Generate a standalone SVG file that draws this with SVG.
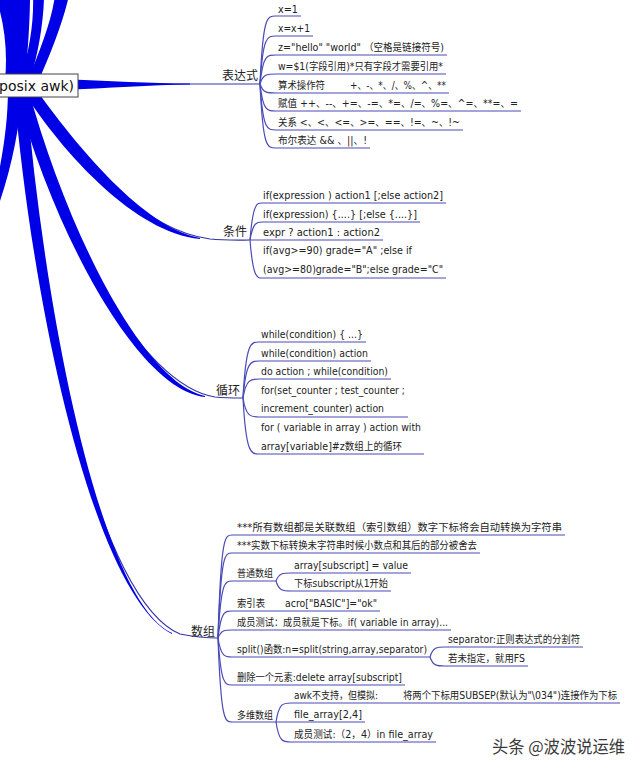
<svg xmlns="http://www.w3.org/2000/svg" width="640" height="769" viewBox="0 0 640 769">
<style>
.t{font-family:"DejaVu Sans","Noto Sans CJK SC",sans-serif;font-size:10px;fill:#222}
.lbl{font-family:"DejaVu Sans","Noto Sans CJK SC",sans-serif;font-size:12px;fill:#222}
.root{font-family:"DejaVu Sans","Noto Sans CJK SC",sans-serif;font-size:14px;fill:#111}
.br{fill:#0000e6}
.thin{fill:none;stroke:#3434a8;stroke-width:1.2}
.ul{fill:none;stroke:#4a4ab8;stroke-width:1.2}
.wm{font-family:"Noto Sans CJK SC",sans-serif;font-size:17px;fill:#3a3a3a}
</style>
<rect width="640" height="769" fill="#fff"/>
<g id="connectors">
  <!-- main branches (thick, tapering) -->
  <path class="br" d="M5,80 C8,50 4,20 -5,-5 L30,-5 C30,20 28,50 25,80 Z"/>
  <path class="br" d="M20,80 C30,50 34,20 33,-5 L44,-5 C44,20 38,55 30,80 Z"/>
  <path class="br" d="M28,80 C40,50 52,20 55,-5 L69,-5 C64,20 50,55 38,82 Z"/>
  <path class="br" d="M22,88 C20,130 10,175 -5,215 L-5,190 C2,160 8,125 8,88 Z"/>
  <path class="thin" d="M70,84 C110,84 150,84 260,84"/>
  <path class="br" d="M60,79 C110,81 150,83.4 190,83.6 L190,84.4 C150,84.8 110,88 60,90 Z"/>
  <path class="thin" d="M28,88 C70,150 140,230 210,239 C225,240.5 240,240 250,240"/>
  <path class="br" d="M33,85 C76,146 144,228 200,238 L200,239 C136,233 64,155 23,91 Z"/>
  <path class="thin" d="M22,90 C60,230 140,385 215,397 C225,398 235,398 243,398"/>
  <path class="br" d="M28,88 C66,228 142,382 205,396 L205,397 C138,390 54,233 16,92 Z"/>
  <path class="thin" d="M20,90 C40,330 100,600 180,634 C195,637 205,638 218,638"/>
  <path class="br" d="M26,90 C46,330 104,603 172,633 L172,634 C98,597 35,330 14,90 Z"/>
  <!-- 表达式 fork -->
  <path class="ul" d="M260,84 C263,16 267,16 276,16 H301"/>
  <path class="ul" d="M260,84 C263,36 267,36 276,36 H313"/>
  <path class="ul" d="M260,84 C263,55 267,55 276,55 H447"/>
  <path class="ul" d="M260,84 C263,74 267,74 276,74 H446"/>
  <path class="ul" d="M260,84 C263,93 267,93 276,93 H449"/>
  <path class="ul" d="M260,84 C263,111 267,111 276,111 H521"/>
  <path class="ul" d="M260,84 C263,130 267,130 276,130 H463"/>
  <path class="ul" d="M260,84 C263,148 267,148 276,148 H370"/>
  <!-- 条件 fork -->
  <path class="ul" d="M250,240 C253,203 257,203 262,203 H446"/>
  <path class="ul" d="M250,240 C253,222 257,222 262,222 H420"/>
  <path class="ul" d="M250,240 H383"/>
  <path class="ul" d="M250,240 C253,278 257,278 262,278 H446"/>
  <!-- 循环 fork -->
  <path class="ul" d="M243,398 C246,342 251,342 259,342 H366"/>
  <path class="ul" d="M243,398 C246,361 251,361 259,361 H371"/>
  <path class="ul" d="M243,398 C246,379 251,379 259,379 H391"/>
  <path class="ul" d="M243,398 C246,417 251,417 259,417 H408"/>
  <path class="ul" d="M243,398 C246,454 251,454 259,454 H424"/>
  <!-- 数组 fork -->
  <path class="ul" d="M218,638 C221,535 225,535 232,535 H565"/>
  <path class="ul" d="M218,638 C221,553 225,553 232,553 H480"/>
  <path class="ul" d="M218,638 C221,581 225,581 232,581 H276"/>
  <path class="ul" d="M218,638 C221,611 225,611 232,611 H268"/>
  <path class="ul" d="M218,638 C221,630 225,630 232,630 H451"/>
  <path class="ul" d="M218,638 C221,657 225,657 232,657 H430"/>
  <path class="ul" d="M218,638 C221,685 225,685 232,685 H405"/>
  <path class="ul" d="M218,638 C221,722 225,722 232,722 H276"/>
  <!-- sub forks -->
  <path class="ul" d="M276,581 C279,573 283,573 291,573 H411"/>
  <path class="ul" d="M276,581 C279,591 283,591 291,591 H391"/>
  <path class="ul" d="M268,611 H380"/>
  <path class="ul" d="M430,657 C433,647 437,647 445,647 H583"/>
  <path class="ul" d="M430,657 C433,666 437,666 445,666 H528"/>
  <path class="ul" d="M276,722 C279,703 283,703 291,703 H620"/>
  <path class="ul" d="M276,722 H365"/>
  <path class="ul" d="M276,722 C279,742 283,742 291,742 H436"/>
</g>
<g id="root">
  <rect x="-6" y="74" width="84" height="23" fill="#fff" stroke="#444" stroke-width="1"/>
  <text class="root" x="74" y="91" text-anchor="end">posix awk)</text>
</g>
<g id="expr">
  <text class="lbl" x="258" y="80" text-anchor="end">表达式</text>
  <text class="t" x="278" y="12.5" textLength="20" lengthAdjust="spacingAndGlyphs">x=1</text>
  <text class="t" x="278" y="32" textLength="32" lengthAdjust="spacingAndGlyphs">x=x+1</text>
  <text class="t" x="278" y="51" textLength="166" lengthAdjust="spacingAndGlyphs">z="hello" "world" （空格是链接符号)</text>
  <text class="t" x="278" y="70" textLength="165" lengthAdjust="spacingAndGlyphs">w=$1(字段引用)*只有字段才需要引用*</text>
  <text class="t" x="278" y="89" textLength="47" lengthAdjust="spacingAndGlyphs">算术操作符</text>
  <text class="t" x="350" y="89" textLength="96" lengthAdjust="spacingAndGlyphs">+、-、*、/、%、^、**</text>
  <text class="t" x="278" y="107" textLength="240" lengthAdjust="spacingAndGlyphs">赋值  ++、--、+=、-=、*=、/=、%=、^=、**=、=</text>
  <text class="t" x="278" y="126" textLength="182" lengthAdjust="spacingAndGlyphs">关系 &lt;、&lt;、&lt;=、&gt;=、==、!=、~、!~</text>
  <text class="t" x="278" y="144" textLength="89" lengthAdjust="spacingAndGlyphs">布尔表达 &amp;&amp; 、||、!</text>
</g>
<g id="cond">
  <text class="lbl" x="247" y="236" text-anchor="end">条件</text>
  <text class="t" x="263" y="199" textLength="180" lengthAdjust="spacingAndGlyphs">if(expression ) action1 [;else action2]</text>
  <text class="t" x="263" y="218" textLength="154" lengthAdjust="spacingAndGlyphs">if(expression) {....} [;else {....}]</text>
  <text class="t" x="263" y="236" textLength="117" lengthAdjust="spacingAndGlyphs">expr ?  action1 : action2</text>
  <text class="t" x="263" y="254" textLength="149" lengthAdjust="spacingAndGlyphs">if(avg&gt;=90) grade="A" ;else if</text>
  <text class="t" x="263" y="273" textLength="180" lengthAdjust="spacingAndGlyphs">(avg&gt;=80)grade="B";else grade="C"</text>
</g>
<g id="loop">
  <text class="lbl" x="240" y="395" text-anchor="end">循环</text>
  <text class="t" x="261" y="338" textLength="102" lengthAdjust="spacingAndGlyphs">while(condition) { ...}</text>
  <text class="t" x="261" y="357" textLength="107" lengthAdjust="spacingAndGlyphs">while(condition) action</text>
  <text class="t" x="261" y="375" textLength="127" lengthAdjust="spacingAndGlyphs">do action ; while(condition)</text>
  <text class="t" x="261" y="394" textLength="144" lengthAdjust="spacingAndGlyphs">for(set_counter ; test_counter ;</text>
  <text class="t" x="261" y="412" textLength="123" lengthAdjust="spacingAndGlyphs">increment_counter) action</text>
  <text class="t" x="261" y="431" textLength="160" lengthAdjust="spacingAndGlyphs">for ( variable in array ) action with</text>
  <text class="t" x="261" y="450" textLength="141" lengthAdjust="spacingAndGlyphs">array[variable]#z数组上的循环</text>
</g>
<g id="array">
  <text class="lbl" x="215" y="636" text-anchor="end">数组</text>
  <text class="t" x="237" y="531" textLength="325" lengthAdjust="spacingAndGlyphs">***所有数组都是关联数组（索引数组）数字下标将会自动转换为字符串</text>
  <text class="t" x="237" y="549" textLength="240" lengthAdjust="spacingAndGlyphs">***实数下标转换未字符串时候小数点和其后的部分被舍去</text>
  <text class="t" x="237" y="577" textLength="36" lengthAdjust="spacingAndGlyphs">普通数组</text>
  <text class="t" x="294" y="569" textLength="114" lengthAdjust="spacingAndGlyphs">array[subscript] = value</text>
  <text class="t" x="294" y="587" textLength="94" lengthAdjust="spacingAndGlyphs">下标subscript从1开始</text>
  <text class="t" x="237" y="607" textLength="28" lengthAdjust="spacingAndGlyphs">索引表</text>
  <text class="t" x="285" y="607" textLength="92" lengthAdjust="spacingAndGlyphs">acro["BASIC"]="ok"</text>
  <text class="t" x="237" y="626" textLength="211" lengthAdjust="spacingAndGlyphs">成员测试：成员就是下标。if( variable in array)...</text>
  <text class="t" x="237" y="653" textLength="190" lengthAdjust="spacingAndGlyphs">split()函数:n=split(string,array,separator)</text>
  <text class="t" x="448" y="643" textLength="132" lengthAdjust="spacingAndGlyphs">separator:正则表达式的分割符</text>
  <text class="t" x="448" y="662" textLength="77" lengthAdjust="spacingAndGlyphs">若未指定，就用FS</text>
  <text class="t" x="237" y="681" textLength="165" lengthAdjust="spacingAndGlyphs">删除一个元素:delete array[subscript]</text>
  <text class="t" x="237" y="719" textLength="36" lengthAdjust="spacingAndGlyphs">多维数组</text>
  <text class="t" x="294" y="699" textLength="84" lengthAdjust="spacingAndGlyphs">awk不支持，但模拟:</text>
  <text class="t" x="403" y="699" textLength="214" lengthAdjust="spacingAndGlyphs">将两个下标用SUBSEP(默认为"\034")连接作为下标</text>
  <text class="t" x="294" y="718" textLength="68" lengthAdjust="spacingAndGlyphs">file_array[2,4]</text>
  <text class="t" x="294" y="738" textLength="139" lengthAdjust="spacingAndGlyphs">成员测试:（2，4）in file_array</text>
</g>
<g id="watermark">
  <text class="wm" x="492" y="753" textLength="133" lengthAdjust="spacingAndGlyphs">头条 @波波说运维</text>
</g>
</svg>
